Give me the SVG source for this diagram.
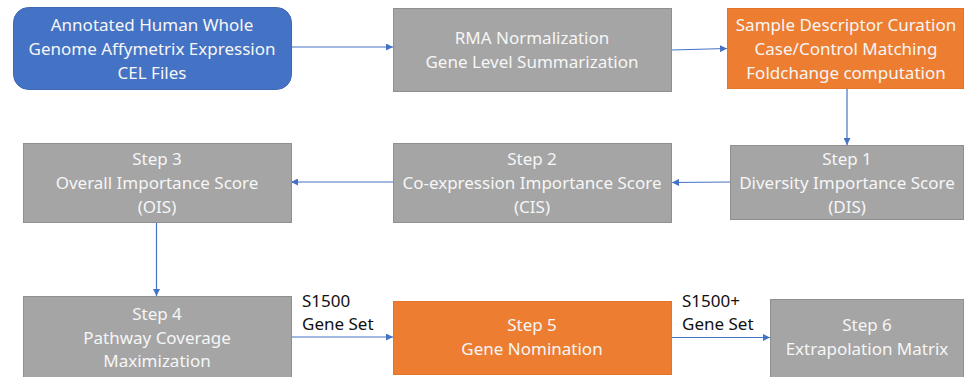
<svg xmlns="http://www.w3.org/2000/svg" width="966" height="377" viewBox="0 0 966 377">
<defs>
<style>
.gray{fill:#a5a5a5;stroke:#8f8f8f;stroke-width:1}
.orange{fill:#ed7d31;stroke:#e2752a;stroke-width:1}
.blue{fill:#4472c4;stroke:#3f68b3;stroke-width:1}
.t{font-family:"Noto Sans","Open Sans",sans-serif;font-size:17px;fill:#f6f6f6;text-anchor:middle}
.lbl{font-family:"Noto Sans","Open Sans",sans-serif;font-size:17px;fill:#111}
.c{fill:none;stroke:#4472c4;stroke-width:1.2;marker-end:url(#ah)}
</style>
<marker id="ah" viewBox="0 0 10 10" refX="10" refY="5" markerWidth="7" markerHeight="7" markerUnits="userSpaceOnUse" orient="auto">
<path d="M0,0 L10,5 L0,10 z" fill="#4472c4"/>
</marker>
</defs>
<rect width="966" height="377" fill="#ffffff"/>
<g id="connectors">
<line class="c" x1="291" y1="47" x2="393" y2="47"/>
<line class="c" x1="671" y1="50" x2="727" y2="48.5"/>
<line class="c" x1="847" y1="89" x2="847" y2="145"/>
<line class="c" x1="730" y1="182" x2="672" y2="182.5"/>
<line class="c" x1="393" y1="182" x2="291" y2="182"/>
<line class="c" x1="156.5" y1="223" x2="156.5" y2="296"/>
<line class="c" x1="291" y1="337" x2="393" y2="337"/>
<line class="c" x1="672" y1="337.5" x2="770" y2="337.5"/>
</g>
<g id="n-cel">
<rect class="blue" x="13.5" y="7.5" width="278" height="82" rx="15"/>
<text class="t" x="152" y="31">Annotated Human Whole</text>
<text class="t" x="152" y="55">Genome Affymetrix Expression</text>
<text class="t" x="152" y="79">CEL Files</text>
</g>
<g id="n-rma">
<rect class="gray" x="393.5" y="8.5" width="278" height="83"/>
<text class="t" x="532" y="44">RMA Normalization</text>
<text class="t" x="532" y="68">Gene Level Summarization</text>
</g>
<g id="n-sample">
<rect class="orange" x="727.5" y="8.5" width="236" height="80"/>
<text class="t" x="846" y="31">Sample Descriptor Curation</text>
<text class="t" x="846" y="55">Case/Control Matching</text>
<text class="t" x="846" y="79">Foldchange computation</text>
</g>
<g id="n-step1">
<rect class="gray" x="730.5" y="145.5" width="233" height="74"/>
<text class="t" x="847" y="165">Step 1</text>
<text class="t" x="847" y="189">Diversity Importance Score</text>
<text class="t" x="847" y="213">(DIS)</text>
</g>
<g id="n-step2">
<rect class="gray" x="393.5" y="143.5" width="278" height="79"/>
<text class="t" x="532" y="165">Step 2</text>
<text class="t" x="532" y="189">Co-expression Importance Score</text>
<text class="t" x="532" y="213">(CIS)</text>
</g>
<g id="n-step3">
<rect class="gray" x="23.5" y="143.5" width="268" height="79"/>
<text class="t" x="157" y="165">Step 3</text>
<text class="t" x="157" y="189">Overall Importance Score</text>
<text class="t" x="157" y="213">(OIS)</text>
</g>
<g id="n-step4">
<rect class="gray" x="23.5" y="296.5" width="268" height="85"/>
<text class="t" x="157" y="320">Step 4</text>
<text class="t" x="157" y="344">Pathway Coverage</text>
<text class="t" x="157" y="367">Maximization</text>
</g>
<g id="n-step5">
<rect class="orange" x="393.5" y="301.5" width="278" height="73"/>
<text class="t" x="532" y="331">Step 5</text>
<text class="t" x="532" y="355">Gene Nomination</text>
</g>
<g id="n-step6">
<rect class="gray" x="770.5" y="299.5" width="193" height="82"/>
<text class="t" x="867" y="331">Step 6</text>
<text class="t" x="867" y="355">Extrapolation Matrix</text>
</g>
<g id="labels">
<text class="lbl" x="302" y="307">S1500</text>
<text class="lbl" x="302" y="330">Gene Set</text>
<text class="lbl" x="682" y="307">S1500+</text>
<text class="lbl" x="682" y="330">Gene Set</text>
</g>
</svg>
